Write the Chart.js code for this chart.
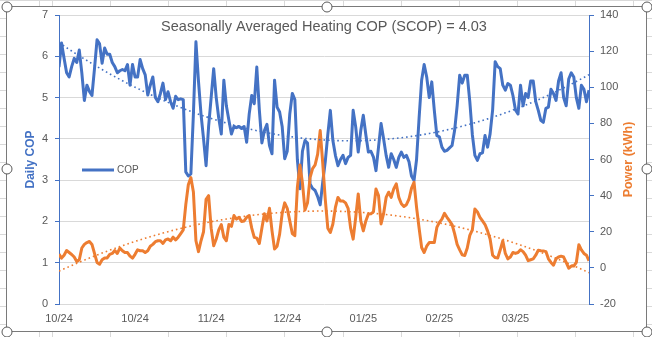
<!DOCTYPE html>
<html lang="en">
<head>
    <meta charset="UTF-8">
    <title>Seasonally Averaged Heating COP</title>
    <script src="https://cdn.jsdelivr.net/npm/chart.js"></script>
    <style>
        *{margin:0;padding:0;box-sizing:border-box;}
        body{width:652px;height:337px;overflow:hidden;position:relative;background-color:#fff;
            background-image:repeating-linear-gradient(90deg,#d9d9d9 0 1px,transparent 1px 58.1px),repeating-linear-gradient(180deg,#d9d9d9 0 1px,transparent 1px 18px);
            background-position:52px 0,0 0;}
        .frame{position:absolute;left:6px;top:6px;width:641px;height:326px;background:#fff;border:1px solid #7a7a7a;}
        #chart{position:absolute;left:0;top:0;z-index:1;}
        .h{position:absolute;width:11px;height:11px;border:1.5px solid #595959;border-radius:50%;background:#fff;transform:translate(-50%,-50%);z-index:2;}
    </style>
</head>
<body>
<div class="frame"></div>
<canvas id="chart" width="652" height="337"></canvas>
<div class="h" style="left:6.5px;top:6.5px"></div>
<div class="h" style="left:326.5px;top:6.5px"></div>
<div class="h" style="left:646.5px;top:6.5px"></div>
<div class="h" style="left:6.5px;top:168.5px"></div>
<div class="h" style="left:646.5px;top:168.5px"></div>
<div class="h" style="left:6.5px;top:331.5px"></div>
<div class="h" style="left:326.5px;top:331.5px"></div>
<div class="h" style="left:646.5px;top:331.5px"></div>

<script>
// one value per day, starting 1 Oct 2024
const copDaily=[
5.74,6.32,5.95,5.6,5.5,5.75,5.95,5.85,6.15,5.6,
4.93,5.3,5.15,5.05,5.7,6.4,6.3,5.83,6.2,6.05,
6.05,5.85,5.75,5.6,5.65,5.68,5.65,5.8,5.3,5.8,
5.5,5.5,5.92,5.7,5.55,5.06,5.3,5.5,5.0,4.9,
5.1,5.35,4.95,5.14,4.9,4.74,5.03,4.95,4.97,4.95,
3.2,3.1,3.15,4.6,6.35,5.4,4.6,4.0,3.35,4.3,
5.0,5.7,5.0,4.5,4.12,5.42,4.8,4.45,4.12,4.3,
4.27,4.3,4.25,4.3,3.92,4.6,5.05,4.85,5.74,4.7,
3.9,4.2,4.35,3.84,3.64,5.42,4.77,4.65,4.3,3.52,
3.7,4.6,5.1,4.95,3.5,2.79,3.7,3.96,3.9,2.91,
2.8,2.75,2.6,2.4,2.95,3.45,4.1,4.69,3.96,3.6,
3.35,3.5,3.6,3.4,3.55,3.6,4.69,4.29,3.68,4.2,
4.57,4.1,3.68,3.7,3.56,3.23,3.8,4.37,4.0,3.6,
3.31,3.64,3.5,3.31,3.55,3.68,3.55,3.6,3.45,3.1,
2.99,3.5,4.5,5.42,5.8,5.5,5.0,5.38,4.69,4.08,
4.05,3.8,3.7,3.72,3.78,3.84,4.2,4.8,5.54,5.35,
5.54,5.54,4.9,4.1,3.6,3.48,3.64,3.66,4.08,3.8,
4.12,4.7,5.87,5.75,5.7,5.3,5.18,5.34,5.3,5.05,
4.7,4.6,5.3,4.8,5.1,5.0,5.4,5.4,4.9,4.69,
4.45,4.4,4.74,4.77,5.2,5.1,4.93,5.4,5.6,5.0,
4.8,5.45,5.6,5.5,5.0,4.74,5.3,5.2,4.9,5.18
];
const powerDaily=[
7.6,5.4,7,9.6,8.5,7.4,6,3.5,4.5,11,
13,14,14.6,13,8,3,2,4.5,5.5,5.5,
7.5,8,9.6,8,10.9,9.5,8.5,8.5,6.5,5.4,
7.5,10,9.5,9.5,8.5,9.5,12,13,14.5,15,
15,13.5,15.5,16,15,17,15.5,17,19,21,
35,46,50,42,15,9,15,20,38,40,
22,12.2,16,21,24,17,15,24,23,29,
27,28,25.7,26,28,29,22,16.9,16.5,13.5,
22,30,26,33,20.5,10.4,12,18.7,30,36,
33,26,19,17.8,44.6,57,47,32,36,50,
55,57,63,76,58,38,22,19.6,24.3,33.5,
39,37,37,36,33,22,15.9,28,40.9,26,
20.5,26,29.8,30,31,43.7,40,24.3,30,39,
41.9,39,43.7,46.5,39,35.5,34,35,38,44,
47.4,33.5,22,11.3,8.5,12,14,14,14,22.4,
25.2,27,30.2,28,26,24,19,13,10,7.2,
6.8,11,18,21,32.6,31,28,26,24,20.5,
16,7,5.7,5.5,10,15,8,5,6,8.5,
8,8.5,10,9,7,4,4.5,5,7,9.8,
9.5,9.4,9,5,3,1.5,5,6,6.5,6,
3,-0.2,1,1,3,12.8,10,8,7,3.9
];
const tickLabels=['10/24','10/24','11/24','12/24','01/25','02/25','03/25'];
const tickEvery=30; // days between date labels
const titleText='Seasonally Averaged Heating COP (SCOP) = 4.03';

const BLUE='#4472C4', ORANGE='#ED7D31', GREY='#595959';

// 2nd order polynomial trendline (least squares), like Excel
function quadTrend(ys){
    let s=[0,0,0,0,0],t=[0,0,0];
    ys.forEach((y,x)=>{let p=1;for(let k=0;k<5;k++){s[k]+=p;if(k<3)t[k]+=p*y;p*=x;}});
    const m=[[s[0],s[1],s[2],t[0]],[s[1],s[2],s[3],t[1]],[s[2],s[3],s[4],t[2]]];
    for(let i=0;i<3;i++){for(let j=i+1;j<3;j++){const f=m[j][i]/m[i][i];for(let k=i;k<4;k++)m[j][k]-=f*m[i][k];}}
    const c=[0,0,0];
    for(let i=2;i>=0;i--){let v=m[i][3];for(let k=i+1;k<3;k++)v-=m[i][k]*c[k];c[i]=v/m[i][i];}
    return ys.map((_,x)=>({x:x,y:c[0]+c[1]*x+c[2]*x*x}));
}
const pts=arr=>arr.map((v,i)=>({x:i,y:v}));

const overlay={
    id:'overlay',
    afterDraw(chart){
        const {ctx,chartArea:a}=chart;
        const midY=(a.top+a.bottom)/2;
        ctx.save();
        ctx.fillStyle=GREY;ctx.textAlign='center';ctx.textBaseline='alphabetic';
        ctx.font='14.5px "Liberation Sans", Arial, sans-serif';
        ctx.fillText(titleText,(a.left+a.right)/2,31);
        ctx.font='bold 12px "Liberation Sans", Arial, sans-serif';ctx.textBaseline='middle';
        ctx.save();ctx.translate(31,midY);ctx.rotate(-Math.PI/2);ctx.fillStyle=BLUE;ctx.fillText('Daily COP',0,0);ctx.restore();
        ctx.save();ctx.translate(629,midY);ctx.rotate(-Math.PI/2);ctx.fillStyle=ORANGE;ctx.font='bold 12.5px "Liberation Sans", Arial, sans-serif';ctx.fillText('Power (kWh)',0,0);ctx.restore();
        // legend (COP only)
        ctx.strokeStyle=BLUE;ctx.lineWidth=3;ctx.beginPath();ctx.moveTo(82,170);ctx.lineTo(114,170);ctx.stroke();
        ctx.fillStyle=GREY;ctx.textAlign='left';ctx.font='10px "Liberation Sans", Arial, sans-serif';
        ctx.fillText('COP',117,170.5);
        ctx.restore();
    }
};

Chart.defaults.font.family='"Liberation Sans", Arial, sans-serif';
Chart.defaults.font.size=11;
Chart.defaults.color=GREY;

new Chart(document.getElementById('chart'),{
    type:'line',
    data:{datasets:[
        {label:'COP',data:pts(copDaily),yAxisID:'y',borderColor:BLUE,borderWidth:3,pointRadius:0,borderJoinStyle:'round',order:3},
        {label:'Power',data:pts(powerDaily),yAxisID:'y1',borderColor:ORANGE,borderWidth:3,pointRadius:0,borderJoinStyle:'round',order:2},
        {label:'COP trend',data:quadTrend(copDaily),yAxisID:'y',borderColor:BLUE,borderWidth:1.6,borderDash:[1.6,3],pointRadius:0,order:1},
        {label:'Power trend',data:quadTrend(powerDaily),yAxisID:'y1',borderColor:ORANGE,borderWidth:1.6,borderDash:[1.6,3],pointRadius:0,order:0}
    ]},
    options:{
        responsive:false,animation:false,devicePixelRatio:1,
        layout:{padding:{top:15,left:0,right:0,bottom:0}},
        plugins:{legend:{display:false},tooltip:{enabled:false}},
        scales:{
            x:{type:'linear',min:0,max:copDaily.length-1,
                grid:{display:false},border:{display:false},
                afterBuildTicks:s=>{s.ticks=tickLabels.map((_,k)=>({value:k*tickEvery}));},
                afterFit:s=>{s.height=33;},
                ticks:{autoSkip:false,maxRotation:0,padding:0,callback:v=>tickLabels[Math.round(v/tickEvery)]}},
            y:{position:'left',min:0,max:7,
                grid:{color:'#D9D9D9',tickLength:4,tickColor:BLUE},
                border:{color:BLUE,width:1},
                afterFit:s=>{s.width=59;},
                ticks:{stepSize:1,padding:7}},
            y1:{position:'right',min:-20,max:140,
                grid:{drawOnChartArea:false,tickLength:5,tickColor:BLUE},
                border:{color:BLUE,width:1},
                afterFit:s=>{s.width=63;},
                ticks:{stepSize:20,padding:6}}
        }
    },
    plugins:[overlay]
});
</script>
</body>
</html>
